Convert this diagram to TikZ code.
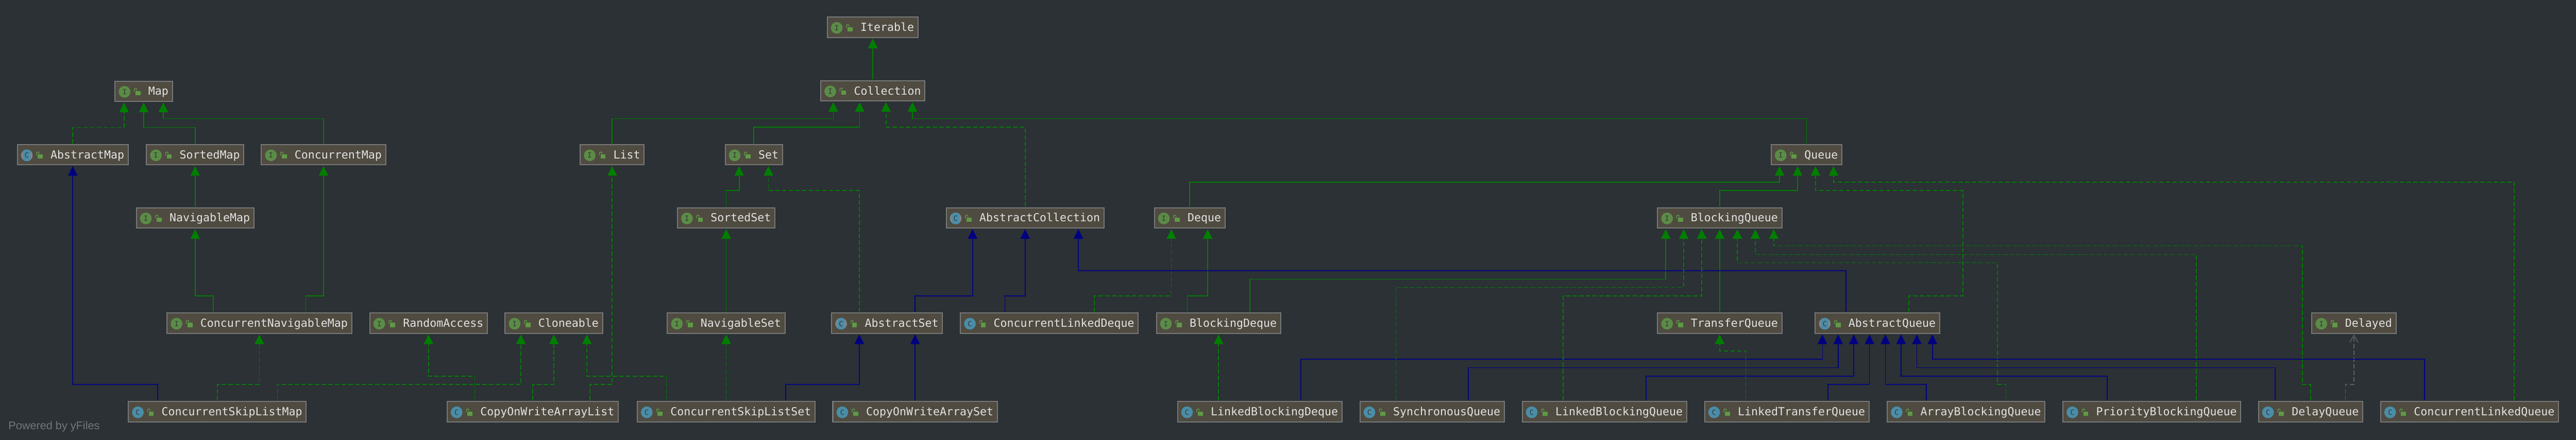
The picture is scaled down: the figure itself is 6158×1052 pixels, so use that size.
\documentclass[tikz,border=0pt]{standalone}
\usepackage{fontspec}
\setmonofont{DejaVu Sans Mono}
\setsansfont{Liberation Sans}
\usetikzlibrary{arrows.meta}

\definecolor{pagebg}{HTML}{2B3135}
\definecolor{boxfill}{HTML}{4F4B41}
\definecolor{boxedge}{HTML}{787878}
\definecolor{boxtext}{HTML}{E2E2E2}
\definecolor{igreen}{HTML}{5B8C47}
\definecolor{cblue}{HTML}{4A8DA8}
\definecolor{cgray}{HTML}{7C868C}
\definecolor{lockgreen}{HTML}{5E9A45}
\definecolor{glyphdark}{HTML}{31393A}
\definecolor{impgreen}{HTML}{007E00}
\definecolor{extblue}{HTML}{000080}
\definecolor{usegray}{HTML}{5E6264}
\definecolor{creditgray}{HTML}{70767A}

\newcommand{\lockmark}{%
    \fill[lockgreen] (48.75,-.5) rectangle (60.75,9.5);
    \draw[lockgreen,line width=1.7pt] (46,1.5) -- (46,-3.5) .. controls (46,-7.5) and (52,-7.5) .. (52,-3.5) -- (52,-2);
}
\newcommand{\iconletter}[1]{\pgftext[at={\pgfpoint{22.75pt}{-1.5pt}}]{\color{glyphdark}\ttfamily\fontsize{17}{17}\selectfont #1}}

\tikzset{
    classbox/.style={draw=boxedge,fill=boxfill,line width=2.5pt,text=boxtext,
        font=\ttfamily\fontsize{26.6}{30}\selectfont,
        inner xsep=9.5pt,inner ysep=8pt,text height=25.75pt,text depth=6.75pt,outer sep=3pt,
        execute at begin node={\hskip70pt}},
    solidtip/.style={-{Triangle[length=23pt,width=23pt,line width=0pt]}},
    extif/.style={draw=impgreen,line width=2pt,solidtip},
    impl/.style={extif,dash pattern=on 10.7pt off 5.3pt},
    extcl/.style={draw=extblue,line width=2pt,solidtip},
    uses/.style={draw=usegray,line width=1.8pt,dash pattern=on 10.7pt off 5.3pt,
        -{Straight Barb[length=17pt,width=20pt]}},
}

\begin{document}
\begin{tikzpicture}[x=1pt,y=-1pt]
    \useasboundingbox (0,0) rectangle (6158,1052);
    \fill[pagebg] (-5,-5) rectangle (6163,1057);

    % top of the tree
    \node[classbox] (Iterable) at (2086,65.25) {Iterable};
    \node[classbox] (Collection) at (2086.5,217.25) {Collection};
    \node[classbox] (Map) at (343.5,218.25) {Map};

    % third row
    \node[classbox] (AbstractMap) at (174,370.25) {AbstractMap};
    \node[classbox] (SortedMap) at (466.5,370.25) {SortedMap};
    \node[classbox] (ConcurrentMap) at (773.5,370.25) {ConcurrentMap};
    \node[classbox] (List) at (1463.5,370.25) {List};
    \node[classbox] (Set) at (1802,370.25) {Set};
    \node[classbox] (Queue) at (4318.5,370.25) {Queue};

    % fourth row
    \node[classbox] (NavigableMap) at (466.5,521.25) {NavigableMap};
    \node[classbox] (SortedSet) at (1736,521.25) {SortedSet};
    \node[classbox] (AbstractCollection) at (2450.5,521.25) {AbstractCollection};
    \node[classbox] (Deque) at (2844,521.25) {Deque};
    \node[classbox] (BlockingQueue) at (4111,521.25) {BlockingQueue};

    % fifth row
    \node[classbox] (ConcurrentNavigableMap) at (620,773.25) {ConcurrentNavigableMap};
    \node[classbox] (RandomAccess) at (1024.5,773.25) {RandomAccess};
    \node[classbox] (Cloneable) at (1324,773.25) {Cloneable};
    \node[classbox] (NavigableSet) at (1736,773.25) {NavigableSet};
    \node[classbox] (AbstractSet) at (2120.5,773.25) {AbstractSet};
    \node[classbox] (ConcurrentLinkedDeque) at (2508.5,773.25) {ConcurrentLinkedDeque};
    \node[classbox] (BlockingDeque) at (2913,773.25) {BlockingDeque};
    \node[classbox] (TransferQueue) at (4111,773.25) {TransferQueue};
    \node[classbox] (AbstractQueue) at (4488,773.25) {AbstractQueue};
    \node[classbox] (Delayed) at (5627,773.25) {Delayed};

    % bottom row
    \node[classbox] (ConcurrentSkipListMap) at (519.5,985.25) {ConcurrentSkipListMap};
    \node[classbox] (CopyOnWriteArrayList) at (1273.5,985.25) {CopyOnWriteArrayList};
    \node[classbox] (ConcurrentSkipListSet) at (1736,985.25) {ConcurrentSkipListSet};
    \node[classbox] (CopyOnWriteArraySet) at (2187.5,985.25) {CopyOnWriteArraySet};
    \node[classbox] (LinkedBlockingDeque) at (3011.5,985.25) {LinkedBlockingDeque};
    \node[classbox] (SynchronousQueue) at (3423.5,985.25) {SynchronousQueue};
    \node[classbox] (LinkedBlockingQueue) at (3835.5,985.25) {LinkedBlockingQueue};
    \node[classbox] (LinkedTransferQueue) at (4271.5,985.25) {LinkedTransferQueue};
    \node[classbox] (ArrayBlockingQueue) at (4700,985.25) {ArrayBlockingQueue};
    \node[classbox] (PriorityBlockingQueue) at (5144,985.25) {PriorityBlockingQueue};
    \node[classbox] (DelayQueue) at (5523.5,985.25) {DelayQueue};
    \node[classbox] (ConcurrentLinkedQueue) at (5903.5,985.25) {ConcurrentLinkedQueue};

    \node[text=creditgray,font=\sffamily\fontsize{26.7}{30}\selectfont,anchor=base west,inner sep=0pt] (PoweredBy) at (20,1028) {Powered by yFiles};

    % icons
    \foreach \ifacename in {Iterable,Collection,Map,SortedMap,ConcurrentMap,List,Set,Queue,NavigableMap,SortedSet,Deque,BlockingQueue,ConcurrentNavigableMap,RandomAccess,Cloneable,NavigableSet,BlockingDeque,TransferQueue,Delayed} {
        \begin{scope}[shift={([xshift=3]\ifacename.west)}]
            \fill[igreen] (22.75,1.5) circle (14pt);
            \iconletter{I}
            \lockmark
        \end{scope}
    }
    \foreach \classname in {ConcurrentLinkedDeque,ConcurrentSkipListMap,CopyOnWriteArrayList,ConcurrentSkipListSet,CopyOnWriteArraySet,LinkedBlockingDeque,SynchronousQueue,LinkedBlockingQueue,LinkedTransferQueue,ArrayBlockingQueue,PriorityBlockingQueue,DelayQueue,ConcurrentLinkedQueue} {
        \begin{scope}[shift={([xshift=3]\classname.west)}]
            \fill[cblue] (22.75,1.5) circle (14pt);
            \iconletter{C}
            \lockmark
        \end{scope}
    }
    \foreach \abstractname in {AbstractMap,AbstractCollection,AbstractSet,AbstractQueue} {
        \begin{scope}[shift={([xshift=3]\abstractname.west)}]
            \fill[cgray] (22.75,1.5) circle (14pt);
            \begin{scope}
                \clip (22.75,1.5) circle (14pt);
                \fill[cblue] (14.25,-13) rectangle (31.25,16);
            \end{scope}
            \iconletter{C}
            \lockmark
        \end{scope}
    }

    % Map side
    \draw[impl] (AbstractMap.north) -- ++(0,-38) -| ([xshift=-47]Map.south);
    \draw[extif] (SortedMap.north) -- ++(0,-38) -| (Map.south);
    \draw[extif] (ConcurrentMap.north) -- ++(0,-59) -| ([xshift=47]Map.south);
    \draw[extif] (NavigableMap.north) -- (SortedMap.south);
    \draw[extif] ([xshift=-110]ConcurrentNavigableMap.north) -- ++(0,-38) -| (NavigableMap.south);
    \draw[extif] ([xshift=111]ConcurrentNavigableMap.north) -- ++(0,-38) -| (ConcurrentMap.south);
    \draw[impl] (ConcurrentSkipListMap.north) -- ++(0,-38) -| (ConcurrentNavigableMap.south);
    \draw[extcl] ([xshift=-142.5]ConcurrentSkipListMap.north) -- ++(0,-38) -| (AbstractMap.south);
    \draw[impl] ([xshift=143.5]ConcurrentSkipListMap.north) -- ++(0,-38) -| ([xshift=-79]Cloneable.south);

    % List and Set side
    \draw[extif] (Collection.north) -- ([xshift=.5]Iterable.south);
    \draw[extif] (List.north) -- ++(0,-59) -| ([xshift=-94.5]Collection.south);
    \draw[extif] (Set.north) -- ++(0,-38.5) -| ([xshift=-31.5]Collection.south);
    \draw[impl] ([xshift=-138.5]CopyOnWriteArrayList.north) -- ++(0,-58) -| (RandomAccess.south);
    \draw[impl] (CopyOnWriteArrayList.north) -- ++(0,-38) -| (Cloneable.south);
    \draw[impl] ([xshift=136.5]CopyOnWriteArrayList.north) -- ++(0,-38) -| (List.south);
    \draw[impl] ([xshift=-143]ConcurrentSkipListSet.north) -- ++(0,-58) -| ([xshift=79]Cloneable.south);
    \draw[impl] (ConcurrentSkipListSet.north) -- (NavigableSet.south);
    \draw[extcl] ([xshift=142]ConcurrentSkipListSet.north) -- ++(0,-38) -| ([xshift=-66.5]AbstractSet.south);
    \draw[extif] (NavigableSet.north) -- (SortedSet.south);
    \draw[extif] (SortedSet.north) -- ++(0,-38) -| ([xshift=-35]Set.south);
    \draw[impl] ([xshift=-66.5]AbstractSet.north) -- ++(0,-290) -| ([xshift=35]Set.south);
    \draw[extcl] ([xshift=67]AbstractSet.north) -- ++(0,-38) -| ([xshift=-125.5]AbstractCollection.south);
    \draw[extcl] (CopyOnWriteArraySet.north) -- ([xshift=67]AbstractSet.south);
    \draw[impl] (AbstractCollection.north) -- ++(0,-189.5) -| ([xshift=31.5]Collection.south);

    % Deque side
    \draw[extcl] ([xshift=-106.5]ConcurrentLinkedDeque.north) -- ++(0,-38) -| (AbstractCollection.south);
    \draw[impl] ([xshift=107.5]ConcurrentLinkedDeque.north) -- ++(0,-38) -| ([xshift=-44]Deque.south);
    \draw[extif] ([xshift=-75]BlockingDeque.north) -- ++(0,-38) -| ([xshift=43]Deque.south);
    \draw[extif] ([xshift=75]BlockingDeque.north) -- ++(0,-78) -| ([xshift=-129]BlockingQueue.south);
    \draw[impl] ([xshift=-98.5]LinkedBlockingDeque.north) -- (BlockingDeque.south);
    \draw[extcl] ([xshift=98.5]LinkedBlockingDeque.north) -- ++(0,-98) -| ([xshift=-131.5]AbstractQueue.south);
    \draw[extif] (Deque.north) -- ++(0,-58) -| ([xshift=-64.5]Queue.south);

    % Queue side
    \draw[extif] (Queue.north) -- ++(0,-59) -| ([xshift=94.5]Collection.south);
    \draw[extif] (BlockingQueue.north) -- ++(0,-38) -| ([xshift=-21.5]Queue.south);
    \draw[extif] (TransferQueue.north) -- (BlockingQueue.south);
    \draw[extcl] ([xshift=-75]AbstractQueue.north) -- ++(0,-98) -| ([xshift=127.5]AbstractCollection.south);
    \draw[impl] ([xshift=75]AbstractQueue.north) -- ++(0,-38) -- ++(129,0) -- ++(0,-252) -| ([xshift=21.5]Queue.south);

    \draw[impl] ([xshift=-86.5]SynchronousQueue.north) -- ++(0,-270) -| ([xshift=-86]BlockingQueue.south);
    \draw[extcl] ([xshift=86.5]SynchronousQueue.north) -- ++(0,-78) -| ([xshift=-94]AbstractQueue.south);
    \draw[impl] ([xshift=-98.5]LinkedBlockingQueue.north) -- ++(0,-250) -| ([xshift=-43]BlockingQueue.south);
    \draw[extcl] ([xshift=99.5]LinkedBlockingQueue.north) -- ++(0,-58) -| ([xshift=-56.5]AbstractQueue.south);
    \draw[impl] ([xshift=-98.5]LinkedTransferQueue.north) -- ++(0,-118) -| (TransferQueue.south);
    \draw[extcl] ([xshift=98.5]LinkedTransferQueue.north) -- ++(0,-38) -| ([xshift=-19]AbstractQueue.south);
    \draw[extcl] ([xshift=-95]ArrayBlockingQueue.north) -- ++(0,-38) -| ([xshift=19]AbstractQueue.south);
    \draw[impl] ([xshift=95]ArrayBlockingQueue.north) -- ++(0,-38) -- ++(-20,0) -- ++(0,-291.5) -| ([xshift=42]BlockingQueue.south);
    \draw[extcl] ([xshift=-107]PriorityBlockingQueue.north) -- ++(0,-58) -| ([xshift=56.5]AbstractQueue.south);
    \draw[impl] ([xshift=106]PriorityBlockingQueue.north) -- ++(0,-349) -| ([xshift=85]BlockingQueue.south);
    \draw[extcl] ([xshift=-84.5]DelayQueue.north) -- ++(0,-78) -| ([xshift=94]AbstractQueue.south);
    \draw[impl] (DelayQueue.north) -- ++(0,-38) -- ++(-19.5,0) -- ++(0,-332) -| ([xshift=129]BlockingQueue.south);
    \draw[uses] ([xshift=83.5]DelayQueue.north) -- ++(0,-38) -| (Delayed.south);
    \draw[extcl] ([xshift=-107.5]ConcurrentLinkedQueue.north) -- ++(0,-98) -| ([xshift=131.5]AbstractQueue.south);
    \draw[impl] ([xshift=106.5]ConcurrentLinkedQueue.north) -- ++(0,-522) -| ([xshift=64.5]Queue.south);
\end{tikzpicture}
\end{document}
